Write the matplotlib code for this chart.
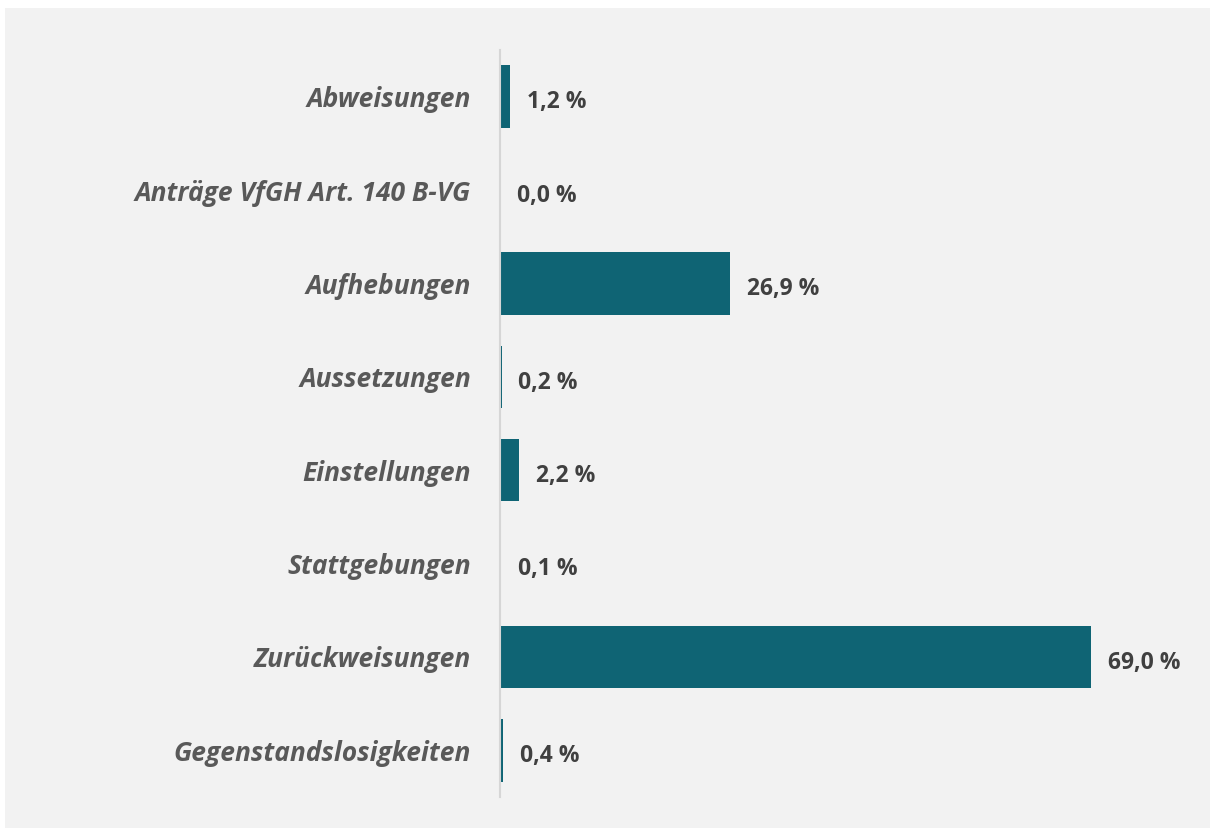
import matplotlib.pyplot as plt
from matplotlib.patches import Rectangle

# Anteile der Erledigungsarten in Prozent
kategorien = [
    "Abweisungen",
    "Anträge VfGH Art. 140 B-VG",
    "Aufhebungen",
    "Aussetzungen",
    "Einstellungen",
    "Stattgebungen",
    "Zurückweisungen",
    "Gegenstandslosigkeiten",
]
anteile = [1.2, 0.0, 26.9, 0.2, 2.2, 0.1, 69.0, 0.4]

balken_farbe = "#0f6474"
hintergrund = "#f2f2f2"
schrift = ["Open Sans", "DejaVu Sans"]

fig = plt.figure(figsize=(12.15, 8.3), dpi=100, facecolor="white")
# graues Feld hinter dem Diagramm
fig.patches.append(
    Rectangle((5 / 1215, 2 / 830), 1205 / 1215, 820 / 830,
              transform=fig.transFigure, facecolor=hintergrund,
              edgecolor="none", zorder=-10)
)

ax = fig.add_axes([500 / 1215, 33 / 830, 700 / 1215, 747 / 830])
ax.set_zorder(5)
ax.set_facecolor("none")

pos = list(range(len(kategorien)))
ax.barh(pos, anteile, height=0.67, color=balken_farbe, zorder=2)

ax.set_ylim(len(kategorien) - 0.5, -0.5)
ax.set_xlim(0, 700 / (591 / 69.0))

for p, wert in zip(pos, anteile):
    ax.annotate(f"{wert:.1f} %".replace(".", ","), xy=(wert, p),
                xytext=(12, -2), textcoords="offset points",
                ha="left", va="center_baseline", fontsize=16.5,
                fontweight="bold", color="#404040", family=schrift)

ax.set_yticks(pos)
ax.set_yticklabels(kategorien, fontsize=19, fontweight="bold",
                   fontstyle="italic", color="#595959", family=schrift)
ax.tick_params(axis="y", length=0, pad=21)
ax.set_xticks([])

for s in ["top", "right", "bottom"]:
    ax.spines[s].set_visible(False)
ax.spines["left"].set_color("#d6d6d6")
ax.spines["left"].set_linestyle((0, (2, 1)))
ax.spines["left"].set_linewidth(1.5)
ax.spines["left"].set_zorder(3)

fig.savefig("out.png", dpi=100, facecolor=fig.get_facecolor())
